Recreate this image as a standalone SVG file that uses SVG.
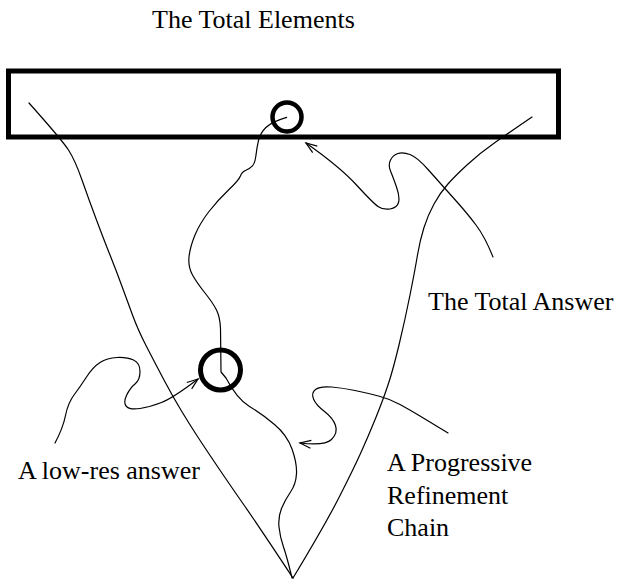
<svg xmlns="http://www.w3.org/2000/svg" width="621" height="582" viewBox="0 0 621 582">
<style>
.lbl{font-family:'Liberation Serif','Times New Roman',Times,'DejaVu Serif',serif;font-size:26px;fill:#000}
.ln{fill:none;stroke:#000;stroke-width:1.2;stroke-linecap:round;stroke-linejoin:round}
.thick{fill:none;stroke:#000}
</style>
<defs>
<marker id="arr" markerUnits="userSpaceOnUse" markerWidth="14" markerHeight="10" refX="11" refY="4" orient="auto" overflow="visible">
<path d="M0,0 L11,4 L0,8" fill="none" stroke="#000" stroke-width="1.2"/>
</marker>
</defs>
<rect width="621" height="582" fill="#fff"/>
<g id="total-elements">
<rect class="thick" x="8.5" y="71" width="550" height="66" stroke-width="5"/>
<text class="lbl" font-family="Liberation Serif, Times New Roman, serif" x="152" y="28">The Total Elements</text>
</g>
<g id="total-answer-node">
<circle class="thick" cx="287" cy="117" r="14.5" stroke-width="4.5"/>
</g>
<g id="lowres-node">
<circle class="thick" cx="220.5" cy="370" r="20" stroke-width="5"/>
</g>
<g id="label-total-answer">
<text class="lbl" font-family="Liberation Serif, Times New Roman, serif" x="428" y="310">The Total Answer</text>
</g>
<g id="label-lowres">
<text class="lbl" font-family="Liberation Serif, Times New Roman, serif" x="18" y="479">A low-res answer</text>
</g>
<g id="label-chain">
<text class="lbl" font-family="Liberation Serif, Times New Roman, serif" x="387" y="471">A Progressive</text>
<text class="lbl" font-family="Liberation Serif, Times New Roman, serif" x="387" y="504">Refinement</text>
<text class="lbl" font-family="Liberation Serif, Times New Roman, serif" x="387" y="536">Chain</text>
</g>
<g id="connectors">
<path id="left-edge" class="ln" d="M29,103 Q62,140 68.5,150 Q75,160 82,180 Q89,200 96.5,220 Q104,240 110,255 Q116,270 121.5,285 Q127,300 132.5,315 Q138,330 146.5,346.5 Q155,363 164,380 Q173,397 181.5,411 Q190,425 197.5,436.5 Q205,448 217.5,466.5 Q230,485 245,506.5 Q260,528 293,578"/>
<path id="right-edge" class="ln" d="M532,117 Q510,132 495,142.5 Q480,153 467.5,164.5 Q455,176 447.5,184.5 Q440,193 434,204 Q428,215 424,227.5 Q420,240 417.5,255 Q415,270 410,295 Q405,320 399,345 Q393,370 388,385 Q383,400 375.5,418.5 Q368,437 360.5,453.5 Q353,470 339,497.5 Q325,525 293,578"/>
<path id="chain" class="ln" d="M286.7,117.3 Q271.7,121.7 265.9,127.5 Q260,133.3 258.4,140.8 Q256.7,148.3 255.9,155.8 Q255,163.3 252.5,165.8 Q250,168.3 245.9,170.2 Q241.7,172 240.4,176 Q239,180 228.5,190 Q218,200 209,211.5 Q200,223 195,235 Q190,247 189,257 Q188,267 192.5,275 Q197,283 205,293 Q213,303 216.5,310 Q220,317 220.5,328.5 L221,372 L226,378 Q237,399 249.5,406.5 Q262,414 274.5,424.5 Q287,435 292,449 Q297,463 296.5,473.5 Q296,484 290.5,492 Q285,500 281.5,508.5 Q278,517 279,527 Q280,537 283.5,547 Q287,557 292,578"/>
<path id="arrow-lowres" class="ln" marker-end="url(#arr)" d="M55,443 Q63,428 65.5,415.5 Q68,403 74,395 Q80,387 86.5,377 Q93,367 100,362.5 Q107,358 117,357.5 Q127,357 133.5,360 Q140,363 140,371.5 Q140,380 135,384 Q130,388 126.5,395.5 Q123,403 126.5,406.5 Q130,410 140,408.5 Q150,407 161.5,402.5 Q173,398 198,379"/>
<path id="arrow-total" class="ln" marker-end="url(#arr)" d="M493,257 Q485,237 476,225 Q467,213 453.5,198 Q440,183 428.5,170 Q417,157 410,154.5 Q403,152 398,153.5 Q393,155 390.5,160 Q388,165 390.5,171 Q393,177 396.5,187 Q400,197 398.5,202.5 Q397,208 390,209 Q383,210 378,206.5 Q373,203 356.5,185 Q340,167 306,143"/>
<path id="arrow-chain" class="ln" marker-end="url(#arr)" d="M448,433 Q430,422 420,416 Q410,410 400,404.5 Q390,399 378.5,396 Q367,393 355,390.5 Q343,388 331.5,387 Q320,386 315.5,389.5 Q311,393 313.5,399 Q316,405 324.5,411.5 Q333,418 335.5,425.5 Q338,433 331.5,439.5 Q325,446 300,443"/>
</g>
</svg>
